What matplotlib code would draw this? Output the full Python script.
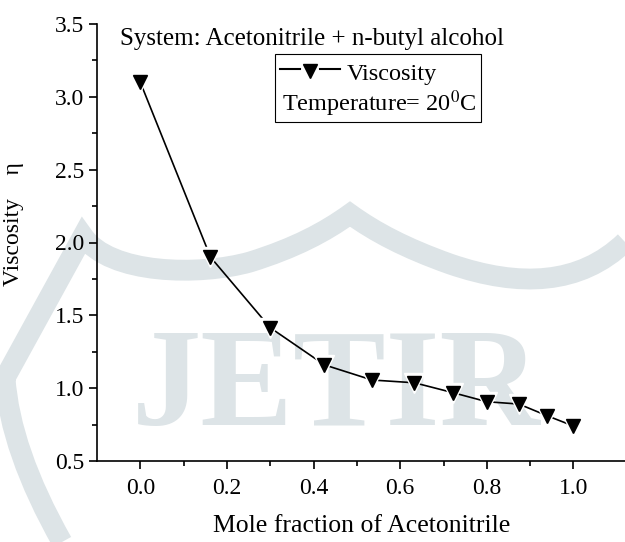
import numpy as np
import matplotlib
matplotlib.use("Agg")
import matplotlib.pyplot as plt
from matplotlib.lines import Line2D
from matplotlib.patches import Rectangle, PathPatch
from matplotlib.path import Path

plt.rcParams['font.family'] = ['Liberation Serif', 'DejaVu Serif']
plt.rcParams['mathtext.fontset'] = 'stix'

# data
mole_fraction = [0.0, 0.162, 0.30, 0.425, 0.535, 0.633, 0.722, 0.80, 0.874, 0.939, 1.0]
viscosity = [3.10, 1.90, 1.415, 1.16, 1.056, 1.037, 0.969, 0.907, 0.891, 0.811, 0.74]

x_ticks = [0.0, 0.2, 0.4, 0.6, 0.8, 1.0]
y_ticks = [0.5, 1.0, 1.5, 2.0, 2.5, 3.0, 3.5]

W, H = 625, 542
fig = plt.figure(figsize=(W / 100, H / 100), dpi=100)
ax = fig.add_axes([97 / W, 81 / H, 1 - 97 / W, 437 / H])
ax.set_facecolor('none')


def px(x, y):
    # figure pixel (from top-left) -> figure fraction
    return (x / W, 1 - y / H)


# watermark (light logo behind the chart)
wm = '#dde4e7'
fig.text(*px(336, 425), 'JETIR', color=wm, fontsize=100, fontweight='bold',
         ha='center', va='baseline', zorder=-2)
verts = [(62, 542), (10, 450), (5, 378), (83, 236),
         (110, 275), (200, 276), (250, 262),
         (295, 248), (325, 232), (350, 214),
         (375, 232), (405, 248), (450, 264),
         (520, 288), (580, 285), (625, 242)]
codes = [Path.MOVETO, Path.CURVE3, Path.CURVE3, Path.LINETO,
         Path.CURVE4, Path.CURVE4, Path.CURVE4,
         Path.CURVE4, Path.CURVE4, Path.CURVE4,
         Path.CURVE4, Path.CURVE4, Path.CURVE4,
         Path.CURVE4, Path.CURVE4, Path.CURVE4]
logo = Path([px(*v) for v in verts], codes)
fig.add_artist(PathPatch(logo, facecolor='none', edgecolor=wm, lw=15,
                         joinstyle='miter', capstyle='butt',
                         transform=fig.transFigure, zorder=-2))

# line with small gaps round the markers
ax.plot(mole_fraction, viscosity, color='black', lw=1.2, zorder=2)
ax.plot(mole_fraction, viscosity, ls='none', marker='v', markersize=15,
        color='white', zorder=3)
ax.plot(mole_fraction, viscosity, ls='none', marker='v', markersize=10,
        color='black', zorder=4)

ax.set_xlim(-0.1, 1.119)
ax.set_ylim(0.5, 3.5)
ax.set_xticks(x_ticks)
ax.set_xticklabels([f'{v:.1f}' for v in x_ticks])
ax.set_yticks(y_ticks)
ax.set_yticklabels([f'{v:.1f}' for v in y_ticks])
ax.set_xticks(np.arange(0.1, 1.1, 0.2), minor=True)
ax.set_yticks(np.arange(0.75, 3.5, 0.5), minor=True)
ax.tick_params(which='major', direction='out', length=6, width=1.2, labelsize=17)
ax.tick_params(axis='x', which='major', pad=6)
ax.tick_params(axis='y', which='major', pad=3)
ax.tick_params(which='minor', direction='out', length=3.5, width=1.2)
for s in ['top', 'right']:
    ax.spines[s].set_visible(False)
for s in ['left', 'bottom']:
    ax.spines[s].set_linewidth(1.2)

ax.set_xlabel('Mole fraction of Acetonitrile', fontsize=18.5)
ax.xaxis.set_label_coords(0.501, -0.124)
ax.set_ylabel('Viscosity    \u03b7', fontsize=17)
ax.yaxis.set_label_coords(-0.138, 0.542)

fig.text(*px(120, 45), 'System: Acetonitrile + n-butyl alcohol',
         fontsize=18, ha='left', va='baseline')

# legend box
fig.add_artist(Rectangle(px(275, 122), 206 / W, 68 / H, facecolor='white',
                         edgecolor='black', lw=0.8, transform=fig.transFigure))
for x0, x1 in [(280, 300), (320, 340)]:
    fig.add_artist(Line2D([x0 / W, x1 / W], [1 - 69 / H] * 2, color='black', lw=1.5,
                          transform=fig.transFigure))
fig.add_artist(Line2D([310 / W], [1 - 71 / H], marker='v', markersize=9.5,
                      color='black', transform=fig.transFigure))
fig.text(*px(347, 80), 'Viscosity', fontsize=17.5, ha='left', va='baseline')
fig.text(*px(282, 111), 'Temperature= 20$^{\\mathrm{0}}$C', fontsize=17.5,
         ha='left', va='baseline')

fig.savefig('out.png', dpi=100)
